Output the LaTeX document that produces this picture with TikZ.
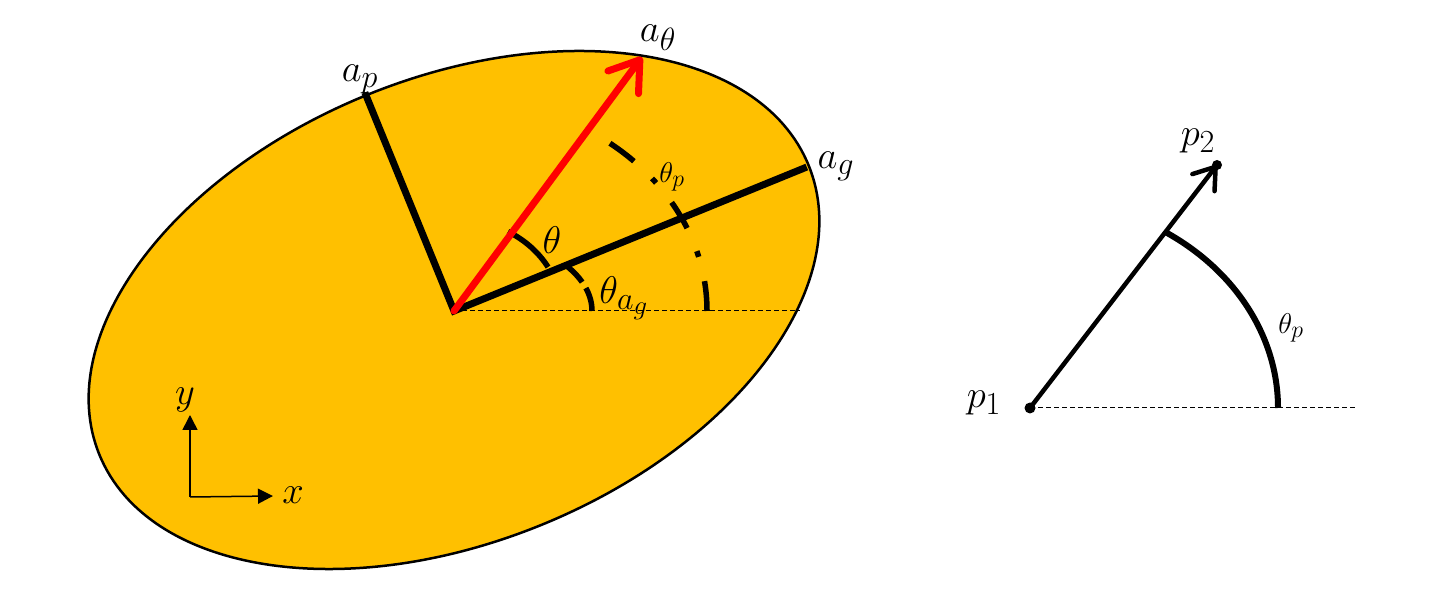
\documentclass[tikz,border=0pt]{standalone}
\usetikzlibrary{arrows.meta,calc}
\definecolor{gold}{HTML}{FFC000}
\newcommand{\mlbl}[1]{\scalebox{1.55}{\Huge$#1$}}
\newcommand{\slbl}[1]{\scalebox{1.15}{\Huge$#1$}}
\tikzset{
  lbl/.style={inner sep=0pt},
  thin dash/.style={line width=1pt, dash pattern=on 5pt off 3pt},
  axisline/.style={line width=7pt},
  anglearc/.style={line width=5.5pt},
}
\begin{document}
\begin{tikzpicture}[x=1pt,y=1pt]
\useasboundingbox (0,0) rectangle (1447,591);
% ---- left figure ----
\coordinate (O) at (454,280);
\coordinate (C) at (454,281);
\fill[gold] (C) ellipse[x radius=383, y radius=232, rotate=22.2];
\draw[line width=2.5pt] (C) ellipse[x radius=383, y radius=232, rotate=22.2];
\coordinate (ag) at ($(O)+(22.2:381)$);
\coordinate (ap) at ($(O)+(112.2:236)$);
\coordinate (at) at ($(O)+(53.5:316)$);
\coordinate (hend) at (800,280);
\draw[thin dash] (O) -- (hend);
\draw[axisline, line join=miter] (ap) -- (O) -- (ag);
% theta arc
\draw[anglearc] ($(O)+(28.5:107 and 92)$) arc[start angle=28.5, end angle=59.7, x radius=107, y radius=92];
% theta_ag arc
\draw[anglearc, dash pattern=on 24pt off 7pt] ($(O)+(138,0)$) arc[start angle=0, end angle=35, x radius=138, y radius=78];
% theta_p arc
\draw[anglearc, dash pattern=on 30pt off 25pt on 6pt off 25pt] ($(O)+(253,0)$) arc[start angle=0, end angle=52, x radius=253, y radius=213];
% red arrow
\draw[red, line width=7pt, line cap=round, -{Straight Barb[length=28pt,width=38pt,line cap=round,line join=round]}] (O) -- (at);
% axes
\coordinate (ax0) at (190,94);
\coordinate (axy) at (190,176);
\coordinate (axx) at (273,95);
\draw[line width=1.5pt, -{Triangle[length=15pt,width=15pt]}] (ax0) -- (axy);
\draw[line width=1.5pt, -{Triangle[length=15pt,width=15pt]}] (ax0) -- (axx);
% labels
\node[lbl] (lat) at (658,553) {\mlbl{a_\theta}};
\node[lbl] (lap) at (360,512) {\mlbl{a_p}};
\node[lbl] (lag) at (836,425) {\mlbl{a_g}};
\node[lbl] (ltp) at (672,414) {\slbl{\theta_p}};
\node[lbl] (lth) at (552,351) {\mlbl{\theta}};
\node[lbl] (ltag) at (624,293) {\mlbl{\theta_{a_g}}};
\node[lbl] (lx) at (293,96) {\mlbl{x}};
\node[lbl] (ly) at (185,191) {\mlbl{y}};
% ---- right figure ----
\coordinate (p1) at (1030,183);
\coordinate (p2) at (1217,426);
\coordinate (rend) at (1355,183);
\draw[thin dash] (p1) -- (rend);
\draw[line width=6pt] ($(p1)+(248,0)$) arc[start angle=0, end angle=57, x radius=248, y radius=210];
\draw[line width=4.5pt, line cap=round, -{Straight Barb[length=20pt,width=28pt,line cap=round,line join=round]}] (p1) -- (p2);
\fill (p1) circle[radius=5.5];
\fill (p2) circle[radius=5];
\node[lbl] (lp2) at (1198,450) {\mlbl{p_2}};
\node[lbl] (lp1) at (984,188) {\mlbl{p_1}};
\node[lbl] (ltp2) at (1291,263) {\slbl{\theta_p}};
\end{tikzpicture}
\end{document}
